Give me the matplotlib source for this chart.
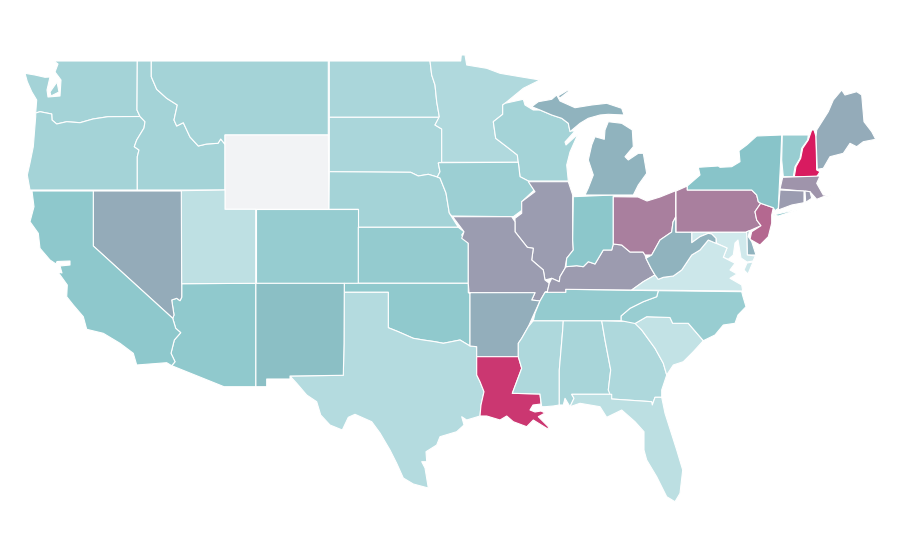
import numpy as np
import matplotlib
matplotlib.use("Agg")
import matplotlib.pyplot as plt
from matplotlib.colors import LinearSegmentedColormap, Normalize

# Estimated choropleth value per state (None = no data)
state_values = {
    "WA": .305, "OR": .305, "ID": .305, "MT": .305, "ND": .264, "SD": .264, "MN": .22,
    "WI": .305, "IA": .36, "NE": .305, "KS": .417, "CO": .40, "WY": None, "UT": .125,
    "NV": .576, "CA": .458, "AZ": .444, "NM": .518, "TX": .194, "OK": .444, "AR": .568,
    "LA": .915, "MS": .236, "AL": .278, "GA": .236, "FL": .139, "SC": .097, "NC": .389,
    "TN": .417, "KY": .624, "IL": .62, "IN": .47, "OH": .706, "MI": .553, "MO": .618,
    "PA": .706, "NJ": .77, "NY": .5, "VT": .389, "NH": 1.0, "ME": .576, "MA": .641,
    "CT": .618, "RI": .618, "DE": .553, "MD": 0.0, "VA": .03, "WV": .553,
}

state_outlines = {
    "WA": [[(54,61),(137.3,61),(137,110),(140,116.5),(108,116.7),(93,119),(80,122.7),(66.7,121.7),(56.7,124),(52,120),(51.7,114),(40,111.7),(35.7,113),(36.7,100),(31.7,91.7),(27.3,81.7),(25,73.3),(35,75),(45,77.3),(50,77),(47,90),(48,97),(60,96),(61,80),(55,72),(58,64)],
           [(50,92),(57,82),(59,92),(51,96)]],
    "OR": [[(35.7,113),(40,111.7),(51.7,114),(52,120),(56.7,124),(66.7,121.7),(80,122.7),(93,119),(108,116.7),(140,116.5),(145,121.7),(144,128),(136.7,140),(134.3,146.7),(139,150),(137.3,156.7),(137.3,190),(30,190),(27.3,175),(30,163),(33.3,146.7),(35.7,116.7)]],
    "ID": [[(137.3,61),(151.3,61),(151.3,76.7),(156.7,89.3),(166.7,98.3),(177.3,105),(174,120),(176.7,126),(183.3,122.7),(190,137),(198.3,146),(206.7,144),(218,143.3),(220.7,139),(225,144.3),(225,190),(137.3,190),(137.3,156.7),(139,150),(134.3,146.7),(136.7,140),(144,128),(145,121.7),(140,116.5),(137,110)]],
    "MT": [[(151.3,61),(328.3,61),(328.3,135),(225,135),(225,144.3),(220.7,139),(218,143.3),(206.7,144),(198.3,146),(190,137),(183.3,122.7),(176.7,126),(174,120),(177.3,105),(166.7,98.3),(156.7,89.3),(151.3,76.7)]],
    "WY": [[(225,135),(328.3,135),(329,209.3),(225,209.3)]],
    "ND": [[(329.3,61),(430,61),(431.7,75),(435,85),(436.7,101.7),(439.3,116.7),(439.3,117.3),(329.3,117.3)]],
    "SD": [[(329.3,117.3),(439.3,117.3),(435,125),(441.7,129),(441.7,162.3),(438.3,163),(440,171.7),(437.3,177),(428.3,174.3),(418.3,176),(410.7,172.3),(329.3,171.7)]],
    "NE": [[(329.3,171.7),(410.7,172.3),(418.3,176),(428.3,174.3),(437.3,177),(440,178),(446,193),(449.3,213),(458.3,227.3),(358.3,227.3),(358.3,209.3),(329,209.3)]],
    "CO": [[(255.7,209.3),(358.3,209.3),(358.3,283.3),(255.7,283.3)]],
    "KS": [[(358.3,227.3),(458.3,227.3),(464,231.7),(461.7,235),(468.3,243),(468.3,283.3),(358.3,283.3)]],
    "OK": [[(344.3,283.3),(468.3,283.3),(468.3,292.7),(470,293.3),(470,346),(460,340),(443.3,343.3),(435,341.7),(423.3,340),(413.3,338.3),(398.3,331.7),(388.3,327.7),(388.3,292.3),(344.3,292.3)]],
    "TX": [[(344.3,292.3),(388.3,292.3),(388.3,327.7),(398.3,331.7),(413.3,338.3),(423.3,340),(435,341.7),(443.3,343.3),(460,340),(470,346),(476.7,346.7),(476.7,375),(480,381.7),(484,391.7),(481,405),(480,416),(466.7,420),(461.7,416.7),(464,425),(456.7,431.7),(440,436.7),(436.7,445),(426,451.7),(426.7,461.7),(421.7,461.7),(425,468),(428.3,488),(413.3,484),(403.3,478),(396.7,463.3),(390,450),(380,433),(371.7,421.7),(355,414.3),(348.3,417.3),(342.3,430),(330,425),(320.7,415),(316.7,401.7),(306.7,395),(296.7,383.3),(290,376),(343.3,375.3),(344,343.3)]],
    "NM": [[(255.7,283.3),(344.3,283.3),(344,343.3),(343.3,375.3),(290,376),(290,379),(266.7,379),(266.7,386.7),(255.7,386.7)]],
    "AZ": [[(181.7,283.7),(255.7,283.3),(255.7,386.7),(224,386.7),(171.7,365.7),(175,361.7),(171,353.3),(174.3,340),(180.7,332.7),(175.7,328.3),(172.7,318.3),(174,315),(171.7,300),(176.7,298.3),(180,300.7),(181.7,297.3)]],
    "NV": [[(93.3,191),(181.7,191),(181.7,297.3),(180,300.7),(176.7,298.3),(171.7,300),(174,315),(172.7,318.3),(93.3,246)]],
    "UT": [[(181.3,190.7),(225,190),(225,209.3),(255.7,209.3),(255.7,283.3),(181.7,283.7)]],
    "CA": [[(32,191),(93.3,191),(93.3,246),(172.7,318.3),(175.7,328.3),(180.7,332.7),(174.3,340),(171,353.3),(175,361.7),(171.7,365.7),(166.7,362.7),(136.7,365),(133.3,353.3),(120,343.3),(103.3,333.3),(86.7,329.3),(83.3,316.7),(73.3,305),(66.7,296.7),(67.3,285),(58,272),(62,273),(60,266),(70,265),(70,261),(57,261.5),(56,264),(50,260),(40,248.3),(38.3,233.3),(30,221.7),(34,206.7)]],
    "MN": [[(430,61),(460.7,61),(461.3,55),(465,55),(466.7,65),(486.7,68.3),(500,73.3),(520,76.7),(540,80),(523.3,88.3),(505,103.3),(502.7,105),(502.7,114.3),(493.3,121.7),(495.7,138.3),(506.7,146.7),(517.3,155),(518.3,162.3),(441.7,162.3),(441.7,129),(435,125),(439.3,116.7),(436.7,101.7),(435,85),(431.7,75)]],
    "WI": [[(505,103.3),(523.3,99.3),(525,105),(533.3,110),(540,110),(551.7,115),(561.7,118.3),(568.3,123.3),(570,131),(575,131),(565,142),(566,145),(578,134),(570,152),(566.7,165),(568.3,181),(528.3,181),(520,176.7),(518.3,162.3),(517.3,155),(506.7,146.7),(495.7,138.3),(493.3,121.7),(502.7,114.3),(502.7,105)]],
    "IA": [[(439.3,162.7),(518.3,162.3),(520,176.7),(528.3,181),(535,191.7),(534.3,190),(521.7,201.7),(522.3,210),(513.3,216.7),(451.7,216),(449.3,213),(446,193),(440,178),(437.3,177),(440,171.7),(438.3,163)]],
    "IL": [[(528.3,181.7),(568.3,181.7),(572.7,195),(572.7,240),(573.3,250),(566.7,258.3),(565,268.3),(560,276.7),(559.3,281.7),(551.7,278.3),(545,280),(543.3,270),(531.7,260),(533.3,248.3),(527.3,247.3),(515,231.7),(515,218.3),(521.7,213.3),(521.7,201.7),(535,191.7)]],
    "MO": [[(452.7,216.7),(511.7,216.7),(515,221.7),(515,231.7),(527.3,247.3),(533.3,248.3),(531.7,260),(543.3,270),(545,280),(549.3,283.3),(547.3,291.7),(545,292.3),(540,301),(531.7,300),(535,292.7),(469,292.7),(468.3,283.3),(468.3,243.3),(461.7,238.3),(464,231.7)]],
    "AR": [[(469,292.7),(535,292.7),(531.7,300),(540,301),(534.3,313.3),(528.3,326.7),(521.7,338.3),(518.3,343.3),(518.3,356.7),(476.7,356.7),(476.7,346.7),(470,346),(470,293.3)]],
    "LA": [[(476.7,356.7),(518.3,356.7),(521.7,368.3),(512.3,393.3),(540,394),(541,404),(533,405),(530,410),(535,412),(541,411),(545,413),(538.3,416.7),(548.3,426.7),(548.3,429.3),(533.3,420),(526.7,426.7),(513.3,421.7),(506.7,416),(500,420),(486.7,416),(480,416),(481,405),(484,391.7),(480,381.7),(476.7,375)]],
    "MS": [[(533.3,320.7),(563.3,320.7),(562.7,330),(559.3,370),(559.3,405),(553.3,406),(545,406.7),(541.7,406.7),(540,394),(512.3,393.3),(521.7,368.3),(518.3,356.7),(518.3,343.3),(521.7,338.3),(528.3,326.7)]],
    "AL": [[(563.3,320.7),(601.7,320.7),(605,340),(610.7,370),(608.3,390),(611.7,394.3),(571.7,394.3),(574,398.3),(570,406.7),(565,398.3),(563.3,405),(559.3,405),(559.3,370),(562.7,330)]],
    "GA": [[(601.7,320.7),(635,321.7),(641.7,330),(655,348.3),(663.3,363.3),(666.7,375),(661.7,390),(661.7,397.3),(655,397.3),(652.3,405),(651.7,401.7),(611.7,399),(608.3,390),(610.7,370),(605,340)]],
    "FL": [[(571.7,394.3),(611.7,394.3),(611.7,399),(651.7,401.7),(652.3,405),(655,397.3),(661.7,397.3),(665,413.3),(676.7,450),(682.7,470),(680,493.3),(675,501.7),(666.7,496.7),(656.7,476.7),(646.7,460),(644,450),(644,431.7),(635,421.7),(621.7,410),(606.7,417.3),(600,406.7),(580,403.3),(570,406.7),(574,398.3)]],
    "SC": [[(635,323.5),(646.7,316.7),(670,317.5),(672.7,323.3),(688.3,323.3),(703.3,340.7),(693.3,351.7),(683.3,361.7),(673.3,365),(666.7,375),(663.3,363.3),(655,348.3),(641.7,330)]],
    "NC": [[(658.3,290.7),(741.7,291.7),(743,296.7),(746,306.7),(738,315),(735,323.3),(723.3,325),(715,335),(703.3,340.7),(688.3,323.3),(672.7,323.3),(670,317.5),(646.7,316.7),(635,323.5),(621,320.7),(621,316),(630,308.3),(643.3,301.7),(656.7,296.7)]],
    "TN": [[(545,292.3),(565.7,292.3),(565.7,289.3),(658.3,290.7),(656.7,296.7),(643.3,301.7),(630,308.3),(621,316),(621,320.7),(533.3,320.7),(535,313.3),(540,301)]],
    "KY": [[(547.3,291.7),(549.3,283.3),(551.7,278.3),(559.3,281.7),(560,276.7),(565,268.3),(566,266.7),(576.7,265.7),(583.3,266.7),(588.3,261.7),(595,264),(603.3,250),(611.7,250),(613.3,244),(621.7,245),(630,252),(643,252),(645,255),(646,258.3),(651,268.3),(655,275),(643.3,281.7),(631.7,290),(565.7,289.3),(565.7,292.3),(545,292.3)]],
    "IN": [[(573.3,196.7),(613.3,195),(613.3,244),(611.7,250),(603.3,250),(595,264),(588.3,261.7),(583.3,266.7),(576.7,265.7),(566,266.7),(566.7,258.3),(573.3,250),(572.7,240)]],
    "OH": [[(613.3,196.7),(638,197),(647,201),(660,197),(675.7,190.7),(675.7,217),(673,222),(671.7,232),(660,240),(651.7,255),(645,255),(643,252),(630,252),(621.7,245),(613.3,244)]],
    "MI": [[(531.7,106.7),(538.3,101.7),(551.7,99.3),(556.7,95),(560,101),(575,107.7),(591.7,105),(606.7,103.3),(621.7,108.3),(624,115),(608.3,114.3),(600,115),(588.3,118.3),(580,123.3),(570,131.7),(568.3,123.3),(561.7,118.3),(551.7,115),(540,110)],
           [(608.3,121.7),(621.7,123.3),(632.3,130),(633.3,146.7),(625,156.7),(628.3,160),(638.3,153.3),(643.3,153.3),(646.7,173.3),(638.3,185),(633.3,195),(585,195),(588.3,188),(593.3,175),(588.3,160),(591.7,145),(595,136.7),(604.3,139.3),(605,130)],
           [(558,96),(568,90),(569,91),(560,98)]],
    "PA": [[(676,191),(687.3,186),(687.3,190),(751.7,190),(756.7,195),(758.3,201.7),(760.7,203.3),(755,211.7),(756.7,220),(761,225.7),(755,228.3),(746,232.3),(676,232.3)]],
    "NJ": [[(760.7,203.3),(773.3,207.7),(771.7,215),(771.7,223.3),(768.3,236.7),(760,245),(750,239.3),(751.7,231.7),(761,225.7),(756.7,220),(755,211.7)]],
    "NY": [[(687.3,186),(700,175),(698.3,167.3),(718.3,166),(720,167.3),(731.7,166.7),(740,161.7),(739,150.7),(746.7,145),(756.7,136),(781.7,135),(780.7,160),(779.3,186.7),(778.3,208.3),(775,210.7),(773.3,207.7),(760.7,203.3),(758.3,201.7),(756.7,195),(751.7,190),(687.3,190)],
           [(773.3,215),(801.7,208.3),(791.7,211.7),(778.3,216)]],
    "VT": [[(782.3,135),(808.3,135),(807.7,140),(801.7,148.3),(800,158.3),(795,166.7),(793.3,176.7),(783.3,176.7),(781.7,160)]],
    "NH": [[(810,135),(811.7,130),(814,130),(816,136.7),(816.7,170),(820,171.7),(816.7,176.7),(794.3,176.7),(796,166.7),(800.7,158.3),(802.7,148.3),(808.3,140)]],
    "ME": [[(816.7,130),(828.3,111.7),(833.3,100),(841.7,90),(845,95),(856.7,91.7),(861.7,95),(864,121.7),(871.7,131.7),(875.7,139.3),(863.3,141.7),(856.7,146.7),(850,143.3),(843.3,153.3),(830,156.7),(823.3,168.3),(817.3,169.3),(816,136.7)]],
    "MA": [[(782.7,177.3),(820,176),(816.7,183.3),(823.3,195),(830.7,195.7),(823.3,196.7),(816.7,199.3),(810,191.7),(780,189)]],
    "CT": [[(780,190),(804,191),(804,202.7),(791.7,205),(778.3,210)]],
    "RI": [[(805,191),(810,191.7),(811.7,198.3),(805.7,202.3)]],
    "DE": [[(746.7,231.7),(749.3,230.7),(748.3,236.7),(751.7,241.7),(756,255),(747.3,255)]],
    "MD": [[(691.7,232.3),(746.7,232.3),(747.3,255),(755.3,256),(753,261),(747,262),(741,258),(739,246),(738,240),(735,243),(733.3,255),(728.3,259.3),(723.3,257.3),(727,248),(716.7,243.3),(716,238.3),(711.7,234),(708.3,233.3),(700,236.7),(691.7,242.7)]],
    "VA": [[(631.7,290),(643.3,281.7),(655,275),(658.3,279.3),(663.3,277.3),(673.3,276),(681.7,270),(691.7,255),(700,250),(708.3,240),(716,243.3),(727,248),(723.3,257.3),(735,263.3),(730,270),(737,274),(730,278.3),(741.7,285),(742.7,291)],
           [(747,263),(753,262),(748,274),(744,270)]],
    "WV": [[(675.7,217),(675.7,232.3),(691.7,232.3),(691.7,242.7),(700,236.7),(708.3,233.3),(711.7,234),(716,238.3),(716,243.3),(708.3,240),(700,250),(691.7,255),(681.7,270),(673.3,276),(663.3,277.3),(658.3,279.3),(655,275),(651,268.3),(646,258.3),(651.7,255),(660,240),(671.7,232),(673,222)]],
}

cmap = LinearSegmentedColormap.from_list("teal_pink", [(0.0, "#d0e9ec"), (0.5, "#88c5c9"), (1.0, "#d81b60")])
norm = Normalize(vmin=0, vmax=1)
no_data = "#f2f3f5"

fig = plt.figure(figsize=(9, 5.6), dpi=100, facecolor="white")
ax = fig.add_axes([0, 0, 1, 1])
ax.set_xlim(0, 900)
ax.set_ylim(560, 0)
ax.axis("off")

for state, parts in state_outlines.items():
    value = state_values[state]
    color = no_data if value is None else cmap(norm(value))
    for part in parts:
        xy = np.array(part)
        ax.fill(xy[:, 0], xy[:, 1], facecolor=color, edgecolor="white", linewidth=0.8, joinstyle="round")

fig.savefig("out.png", dpi=100, facecolor="white")
